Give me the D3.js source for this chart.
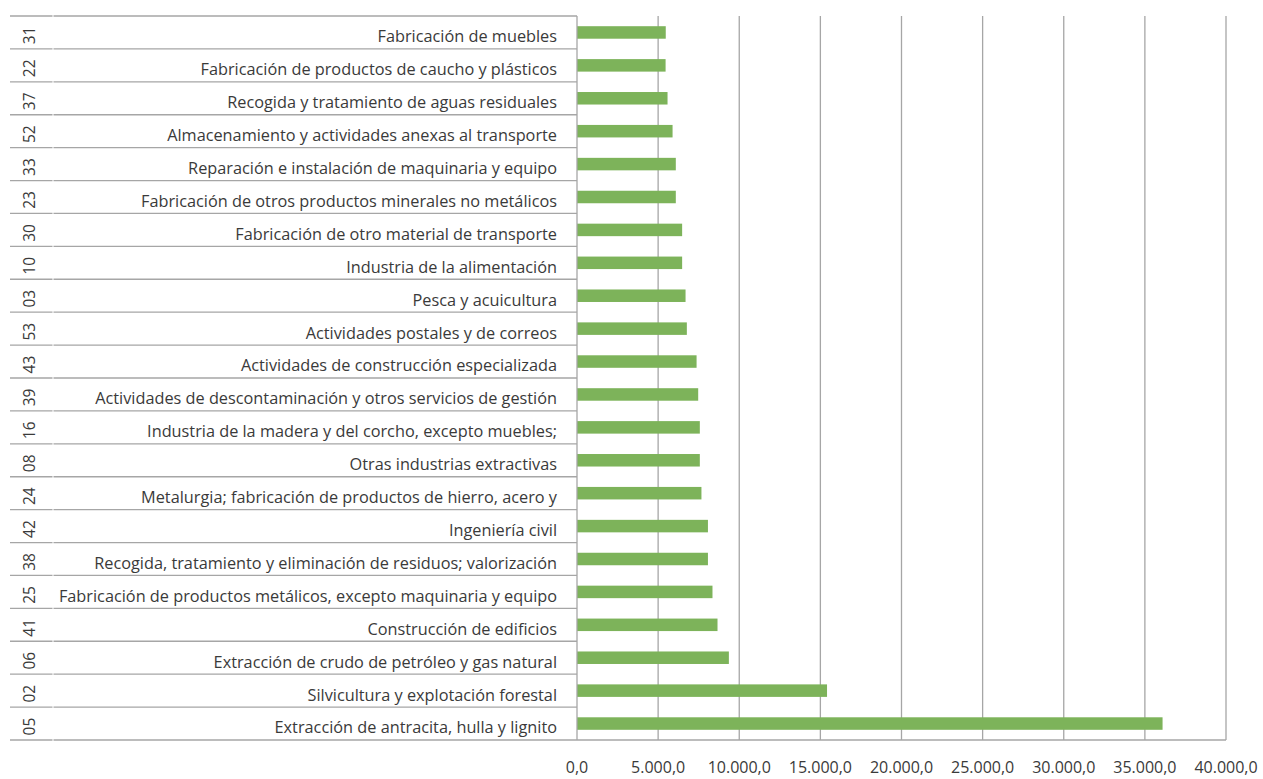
<!DOCTYPE html>
<html>
<head>
<meta charset="utf-8">
<script src="https://cdn.jsdelivr.net/npm/d3@7"></script>
<style>
  body { margin: 0; background: #fff; }
  svg { display: block; }
  text { font-family: "Open Sans", Lato, sans-serif; fill: #3a3a3a; }
</style>
</head>
<body>
<svg id="chart" width="1263" height="779"></svg>
<script>
// top to bottom as in the picture
const codes = ['31', '22', '37', '52', '33', '23', '30', '10', '03', '53', '43',
  '39', '16', '08', '24', '42', '38', '25', '41', '06', '02', '05']

const names = [
  'Fabricación de muebles',
  'Fabricación de productos de caucho y plásticos',
  'Recogida y tratamiento de aguas residuales',
  'Almacenamiento y actividades anexas al transporte',
  'Reparación e instalación de maquinaria y equipo',
  'Fabricación de otros productos minerales no metálicos',
  'Fabricación de otro material de transporte',
  'Industria de la alimentación',
  'Pesca y acuicultura',
  'Actividades postales y de correos',
  'Actividades de construcción especializada',
  'Actividades de descontaminación y otros servicios de gestión',
  'Industria de la madera y del corcho, excepto muebles;',
  'Otras industrias extractivas',
  'Metalurgia; fabricación de productos de hierro, acero y',
  'Ingeniería civil',
  'Recogida, tratamiento y eliminación de residuos; valorización',
  'Fabricación de productos metálicos, excepto maquinaria y equipo',
  'Construcción de edificios',
  'Extracción de crudo de petróleo y gas natural',
  'Silvicultura y explotación forestal',
  'Extracción de antracita, hulla y lignito'
]

const values = [5470, 5460, 5580, 5890, 6090, 6090, 6480, 6480, 6690, 6770, 7370,
  7470, 7570, 7570, 7670, 8070, 8070, 8350, 8660, 9360, 15410, 36090]

const ticks = [0, 5000, 10000, 15000, 20000, 25000, 30000, 35000, 40000]

const svg = d3.select('#chart')
const plotLeft = 577, plotRight = 1226, plotTop = 16, plotBottom = 740
const tableLeft = 10, codeSplit = 53

const rows = codes.map((c, i) => ({ code: c, name: names[i], value: values[i] }))

const x = d3.scaleLinear().domain([0, 40000]).range([plotLeft, plotRight])
const y = d3.scaleBand().domain(codes).range([plotTop, plotBottom]).paddingInner(0.62).paddingOuter(0.31)
const band = d3.scaleBand().domain(codes).range([plotTop, plotBottom])

const fmt = v => d3.format(',.1f')(v).replace(/,/g, 'X').replace('.', ',').replace(/X/g, '.')

// vertical gridlines
svg.append('g')
  .selectAll('line')
  .data(ticks.slice(1))
  .enter()
  .append('line')
  .attr('x1', d => x(d)).attr('x2', d => x(d))
  .attr('y1', plotTop).attr('y2', plotBottom)
  .attr('stroke', '#a6a6a6')
  .attr('stroke-width', 1.3)

// bars
svg.append('g')
  .selectAll('rect')
  .data(rows)
  .enter()
  .append('rect')
  .attr('x', x(0))
  .attr('y', d => y(d.code))
  .attr('width', d => x(d.value) - x(0))
  .attr('height', y.bandwidth())
  .attr('fill', '#7db35a')

// category table lines
const sep = [plotTop].concat(codes.map(c => band(c) + band.bandwidth()))
const lines = svg.append('g').attr('stroke', '#a6a6a6').attr('stroke-width', 1.3)
lines.selectAll('line.a')
  .data(sep)
  .enter()
  .append('line')
  .attr('x1', tableLeft).attr('x2', codeSplit - 0.5)
  .attr('y1', d => d).attr('y2', d => d)
lines.selectAll('line.b')
  .data(sep)
  .enter()
  .append('line')
  .attr('x1', codeSplit + 0.5).attr('x2', plotLeft)
  .attr('y1', d => d).attr('y2', d => d)

// axes
svg.append('line')
  .attr('x1', plotLeft).attr('x2', plotLeft).attr('y1', plotTop).attr('y2', plotBottom)
  .attr('stroke', '#a6a6a6').attr('stroke-width', 1.3)
svg.append('line')
  .attr('x1', plotLeft).attr('x2', plotRight).attr('y1', plotBottom).attr('y2', plotBottom)
  .attr('stroke', '#a6a6a6').attr('stroke-width', 1.3)

// names
svg.append('g')
  .selectAll('text')
  .data(rows)
  .enter()
  .append('text')
  .attr('x', plotLeft - 20)
  .attr('y', d => band(d.code) + band.bandwidth() / 2 + 4)
  .attr('dy', '0.36em')
  .attr('text-anchor', 'end')
  .attr('font-size', '16.3px')
  .text(d => d.name)

// codes, rotated
svg.append('g')
  .selectAll('text')
  .data(rows)
  .enter()
  .append('text')
  .attr('transform', d => 'translate(29,' + (band(d.code) + band.bandwidth() / 2 + 3) + ') rotate(-90)')
  .attr('dy', '0.36em')
  .attr('text-anchor', 'middle')
  .attr('font-size', '15.5px')
  .text(d => d.code)

// tick labels
svg.append('g')
  .selectAll('text')
  .data(ticks)
  .enter()
  .append('text')
  .attr('x', d => x(d))
  .attr('y', 767)
  .attr('dy', '0.36em')
  .attr('text-anchor', 'middle')
  .attr('font-size', '16px')
  .text(d => fmt(d))
</script>
</body>
</html>
